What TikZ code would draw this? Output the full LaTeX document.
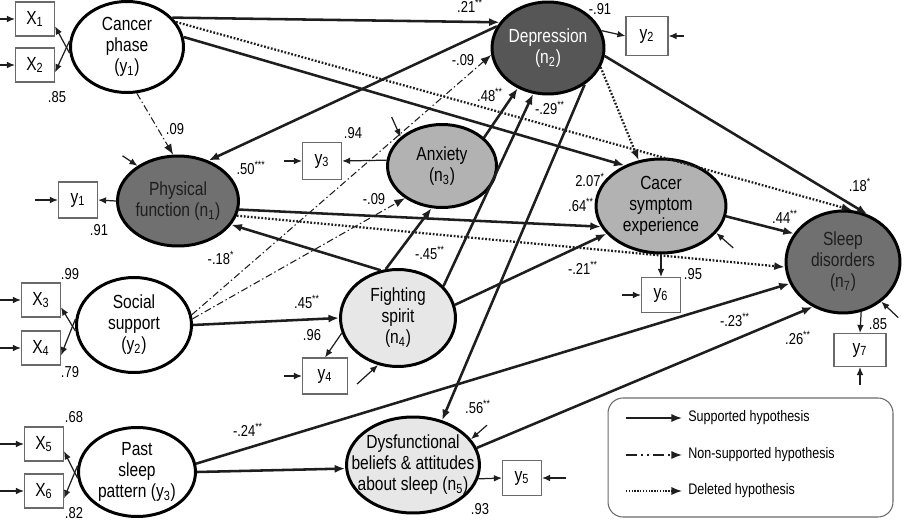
\documentclass[tikz,border=0pt]{standalone}
\usepackage{fontspec}
\setmainfont{Liberation Sans}[FakeStretch=0.82]
\usetikzlibrary{shapes.geometric,arrows.meta,positioning}
\definecolor{depfill}{HTML}{565656}
\definecolor{physfill}{HTML}{707070}
\definecolor{anxfill}{HTML}{B2B2B2}
\definecolor{fightfill}{HTML}{E7E7E7}
\definecolor{boxline}{HTML}{6A6A6A}
\definecolor{inkblack}{HTML}{1E1E1E}
\newcommand{\lo}[1]{\textsubscript{#1}}
\newcommand{\hi}[1]{\textsuperscript{#1}}

\begin{document}
\begin{tikzpicture}[
    x=0.02cm, y=-0.02cm,
    lat/.style={ellipse, draw=black, line width=1.7pt, inner sep=-1cm, align=center,
                font=\fontsize{10.8}{12}\selectfont},
    obs/.style={rectangle, draw=boxline, line width=0.6pt, fill=white, inner sep=0pt,
                minimum width=0.78cm, minimum height=0.68cm, font=\fontsize{10.8}{12}\selectfont},
    supp/.style={-{Latex[length=6pt,width=4.6pt]}, line width=1.45pt, draw=inkblack},
    nsupp/.style={-{Latex[length=6pt,width=4.6pt]}, line width=0.6pt, draw=inkblack,
                dash pattern=on 4pt off 1.6pt on 0.8pt off 1.6pt},
    del/.style={-{Latex[length=6pt,width=4.6pt]}, line width=1.3pt, draw=inkblack,
                dash pattern=on 1pt off 1pt},
    meas/.style={-{Latex[length=4.6pt,width=3.8pt]}, line width=0.7pt, draw=inkblack},
    coef/.style={inner sep=0pt, font=\fontsize{9}{10}\selectfont},
    legtxt/.style={anchor=west, inner xsep=3.4pt, inner ysep=0pt, font=\fontsize{8.7}{10}\selectfont}
]
    \useasboundingbox (0,0) rectangle (916,520);

    % latent variables
    \node[lat, minimum width=2.26cm, minimum height=1.82cm] (canc) at (127,47) {Cancer\\phase\\(y\lo{1})};
    \node[lat, fill=physfill, text=inkblack, minimum width=2.42cm, minimum height=1.8cm] (phys) at (178,201) {Physical\\function (n\lo{1})};
    \node[lat, fill=depfill, text=white, minimum width=2.24cm, minimum height=1.84cm] (dep) at (548,48) {Depression\\(n\lo{2})};
    \node[lat, fill=anxfill, minimum width=2.18cm, minimum height=1.66cm] (anx) at (442,166) {Anxiety\\(n\lo{3})};
    \node[lat, fill=anxfill, minimum width=2.6cm, minimum height=1.88cm] (csym) at (661,206) {Cacer\\symptom\\experience};
    \node[lat, fill=physfill, text=inkblack, minimum width=2.28cm, minimum height=2.04cm] (sleep) at (843,262) {Sleep\\disorders\\(n\lo{7})};
    \node[lat, minimum width=2.3cm, minimum height=1.9cm] (soc) at (134,325) {Social\\support\\(y\lo{2})};
    \node[lat, fill=fightfill, minimum width=2.3cm, minimum height=1.94cm] (fight) at (398,318) {Fighting\\spirit\\(n\lo{4})};
    \node[lat, minimum width=2.34cm, minimum height=1.78cm] (past) at (137,472) {Past\\sleep\\pattern (y\lo{3})};
    \node[lat, fill=fightfill, minimum width=2.66cm, minimum height=1.92cm] (dysf) at (413,465) {Dysfunctional\\beliefs \& attitudes\\about sleep (n\lo{5})};

    % indicators
    \node[obs] (xa) at (35,19) {X\lo{1}};
    \node[obs] (xb) at (35,65) {X\lo{2}};
    \node[obs] (xc) at (41,300) {X\lo{3}};
    \node[obs] (xd) at (41,348) {X\lo{4}};
    \node[obs] (xe) at (44,444) {X\lo{5}};
    \node[obs] (xf) at (44,491) {X\lo{6}};
    \node[obs, minimum height=0.72cm] (ya) at (78,200) {y\lo{1}};
    \node[obs, minimum width=0.84cm, minimum height=0.78cm] (yb) at (647,36) {y\lo{2}};
    \node[obs, minimum height=0.74cm] (yc) at (322,161) {y\lo{3}};
    \node[obs, minimum width=0.9cm, minimum height=0.72cm] (yd) at (325,376) {y\lo{4}};
    \node[obs, minimum height=0.7cm] (ye) at (522,478) {y\lo{5}};
    \node[obs, minimum height=0.7cm] (yf) at (661,295) {y\lo{6}};
    \node[obs, minimum width=1.04cm, minimum height=0.66cm] (yg) at (860,350) {y\lo{7}};

    % loadings
    \draw[meas] (canc.186) -- (xa.-20);
    \draw[meas] (canc.174) -- (xb.-20);
    \draw[meas] (soc.186) -- (xc.-20);
    \draw[meas] (soc.174) -- (xd.-20);
    \draw[meas] (past.186) -- (xe.-20);
    \draw[meas] (past.174) -- (xf.-20);
    \draw[meas] (phys.west) -- (ya.east);
    \draw[meas] (dep.18) -- (yb.west);
    \draw[meas] (anx.174) -- (yc.east);
    \draw[meas] (fight.195) -- (yd.north);
    \draw[meas] (dysf.-12) -- (ye.west);
    \draw[meas] (csym.south) -- (yf.north);
    \draw[meas] (sleep.-70) -- (yg.north);

    % measurement errors
    \foreach \n/\d in {xa/0.32cm, xb/0.32cm, xc/0.44cm, xd/0.44cm, xe/0.5cm, xf/0.5cm,
                       ya/0.46cm, yc/0.36cm, yd/0.36cm, yf/0.38cm} {
        \coordinate[left=\d of \n] (e\n);
        \draw[meas] (e\n) -- (\n);
    }
    \foreach \n/\d in {yb/0.3cm, ye/0.48cm} {
        \coordinate[right=\d of \n] (e\n);
        \draw[meas] (e\n) -- (\n);
    }
    \coordinate[below=0.36cm of yg] (eyg);
    \draw[meas] (eyg) -- (yg);

    % disturbances
    \coordinate (ephys) at ([shift={(-15,-10)}]phys.139);
    \coordinate (eanx) at ([shift={(-9,-20)}]anx.145);
    \coordinate (efight) at ([shift={(-21,19)}]fight.247);
    \coordinate (edysf) at ([shift={(16,-14)}]dysf.24);
    \coordinate (ecsym) at ([shift={(17,15)}]csym.-26);
    \coordinate (esleep) at ([shift={(17,16)}]sleep.-46);
    \draw[meas] (ephys) -- (phys.139);
    \draw[meas] (eanx) -- (anx.145);
    \draw[meas] (efight) -- (fight.247);
    \draw[meas] (edysf) -- (dysf.24);
    \draw[meas] (ecsym) -- (csym.-26);
    \draw[meas] (esleep) -- (sleep.-46);

    % supported paths
    \draw[supp] (canc.33) -- (dep.152);
    \draw[supp] (canc.10) -- (csym.132);
    \draw[supp] (dep.157) -- (phys.53);
    \draw[supp] (anx.34) -- (dep.233);
    \draw[supp] (fight.35) -- (dep.252);
    \draw[supp] (dep.-45) -- (dysf.57);
    \draw[supp] (fight.110) -- (phys.-24);
    \draw[supp] (fight.104) -- (anx.256);
    \draw[supp] (soc.east) -- (fight.west);
    \draw[supp] (past.east) -- (dysf.183);
    \draw[supp] (past.8) -- (sleep.202);
    \draw[supp] (dysf.15) -- (sleep.236);
    \draw[supp] (csym.-9) -- (sleep.150);
    \draw[supp] (dep.-8) -- (sleep.63);
    \draw[supp] (phys.-8) -- (csym.199);
    \draw[supp] (fight.13) -- (csym.207);

    % non-supported paths
    \draw[nsupp] (canc.-78) -- (phys.96);
    \draw[nsupp] (soc.10) -- (dep.187);
    \draw[nsupp] (soc.6) -- (anx.221);

    % deleted paths
    \draw[del] (canc.27) -- (sleep.80);
    \draw[del] (dep.-20) -- (csym.116);
    \draw[del] (phys.-14) -- (sleep.185);

    % coefficients
    \node[coef] (k1) at (57,97) {.85};
    \node[coef] (k2) at (175,129) {.09};
    \node[coef] (k3) at (251,168) {.50\hi{***}};
    \node[coef] (k4) at (470,6) {.21\hi{**}};
    \node[coef] (k5) at (600,9) {-.91};
    \node[coef] (k6) at (463,60) {-.09};
    \node[coef] (k7) at (490,95) {.48\hi{**}};
    \node[coef] (k8) at (550,108) {-.29\hi{**}};
    \node[coef] (k9) at (353,133) {.94};
    \node[coef] (k10) at (590,180) {2.07\hi{*}};
    \node[coef] (k11) at (581,205) {.64\hi{**}};
    \node[coef] (k12) at (583,268) {-.21\hi{**}};
    \node[coef] (k13) at (430,253) {-.45\hi{**}};
    \node[coef] (k14) at (374,199) {-.09};
    \node[coef] (k15) at (860,185) {.18\hi{*}};
    \node[coef] (k16) at (785,217) {.44\hi{**}};
    \node[coef] (k17) at (693,274) {.95};
    \node[coef] (k18) at (735,320) {-.23\hi{**}};
    \node[coef] (k19) at (798,338) {.26\hi{**}};
    \node[coef] (k20) at (878,324) {.85};
    \node[coef] (k21) at (99,230) {.91};
    \node[coef] (k22) at (221,258) {-.18\hi{*}};
    \node[coef] (k23) at (70,274) {.99};
    \node[coef] (k24) at (70,372) {.79};
    \node[coef] (k25) at (307,302) {.45\hi{**}};
    \node[coef] (k26) at (312,335) {.96};
    \node[coef] (k27) at (74,417) {.68};
    \node[coef] (k28) at (74,513) {.82};
    \node[coef] (k29) at (248,430) {-.24\hi{**}};
    \node[coef] (k30) at (478,407) {.56\hi{**}};
    \node[coef] (k31) at (480,509) {.93};

    % legend
    \node[draw=boxline, line width=0.6pt, rounded corners=0.3cm, minimum width=5.7cm,
          minimum height=2.38cm] (legend) at (750.5,457.5) {};
    \node[legtxt] (lsup) at (682,418) {Supported hypothesis};
    \node[legtxt] (lnon) at (682,455) {Non-supported hypothesis};
    \node[legtxt] (ldel) at (682,491) {Deleted hypothesis};
    \coordinate[left=1.12cm of lsup] (lsupa);
    \coordinate[left=1.12cm of lnon] (lnona);
    \coordinate[left=1.12cm of ldel] (ldela);
    \draw[supp, line width=0.9pt] (lsupa) -- (lsup.west);
    \draw[nsupp, line width=0.9pt, dash pattern=on 6pt off 2.5pt on 1pt off 2.5pt on 1pt off 2.5pt] (lnona) -- (lnon.west);
    \draw[del, line width=0.8pt, dash pattern=on 0.8pt off 0.8pt] (ldela) -- (ldel.west);
\end{tikzpicture}
\end{document}
